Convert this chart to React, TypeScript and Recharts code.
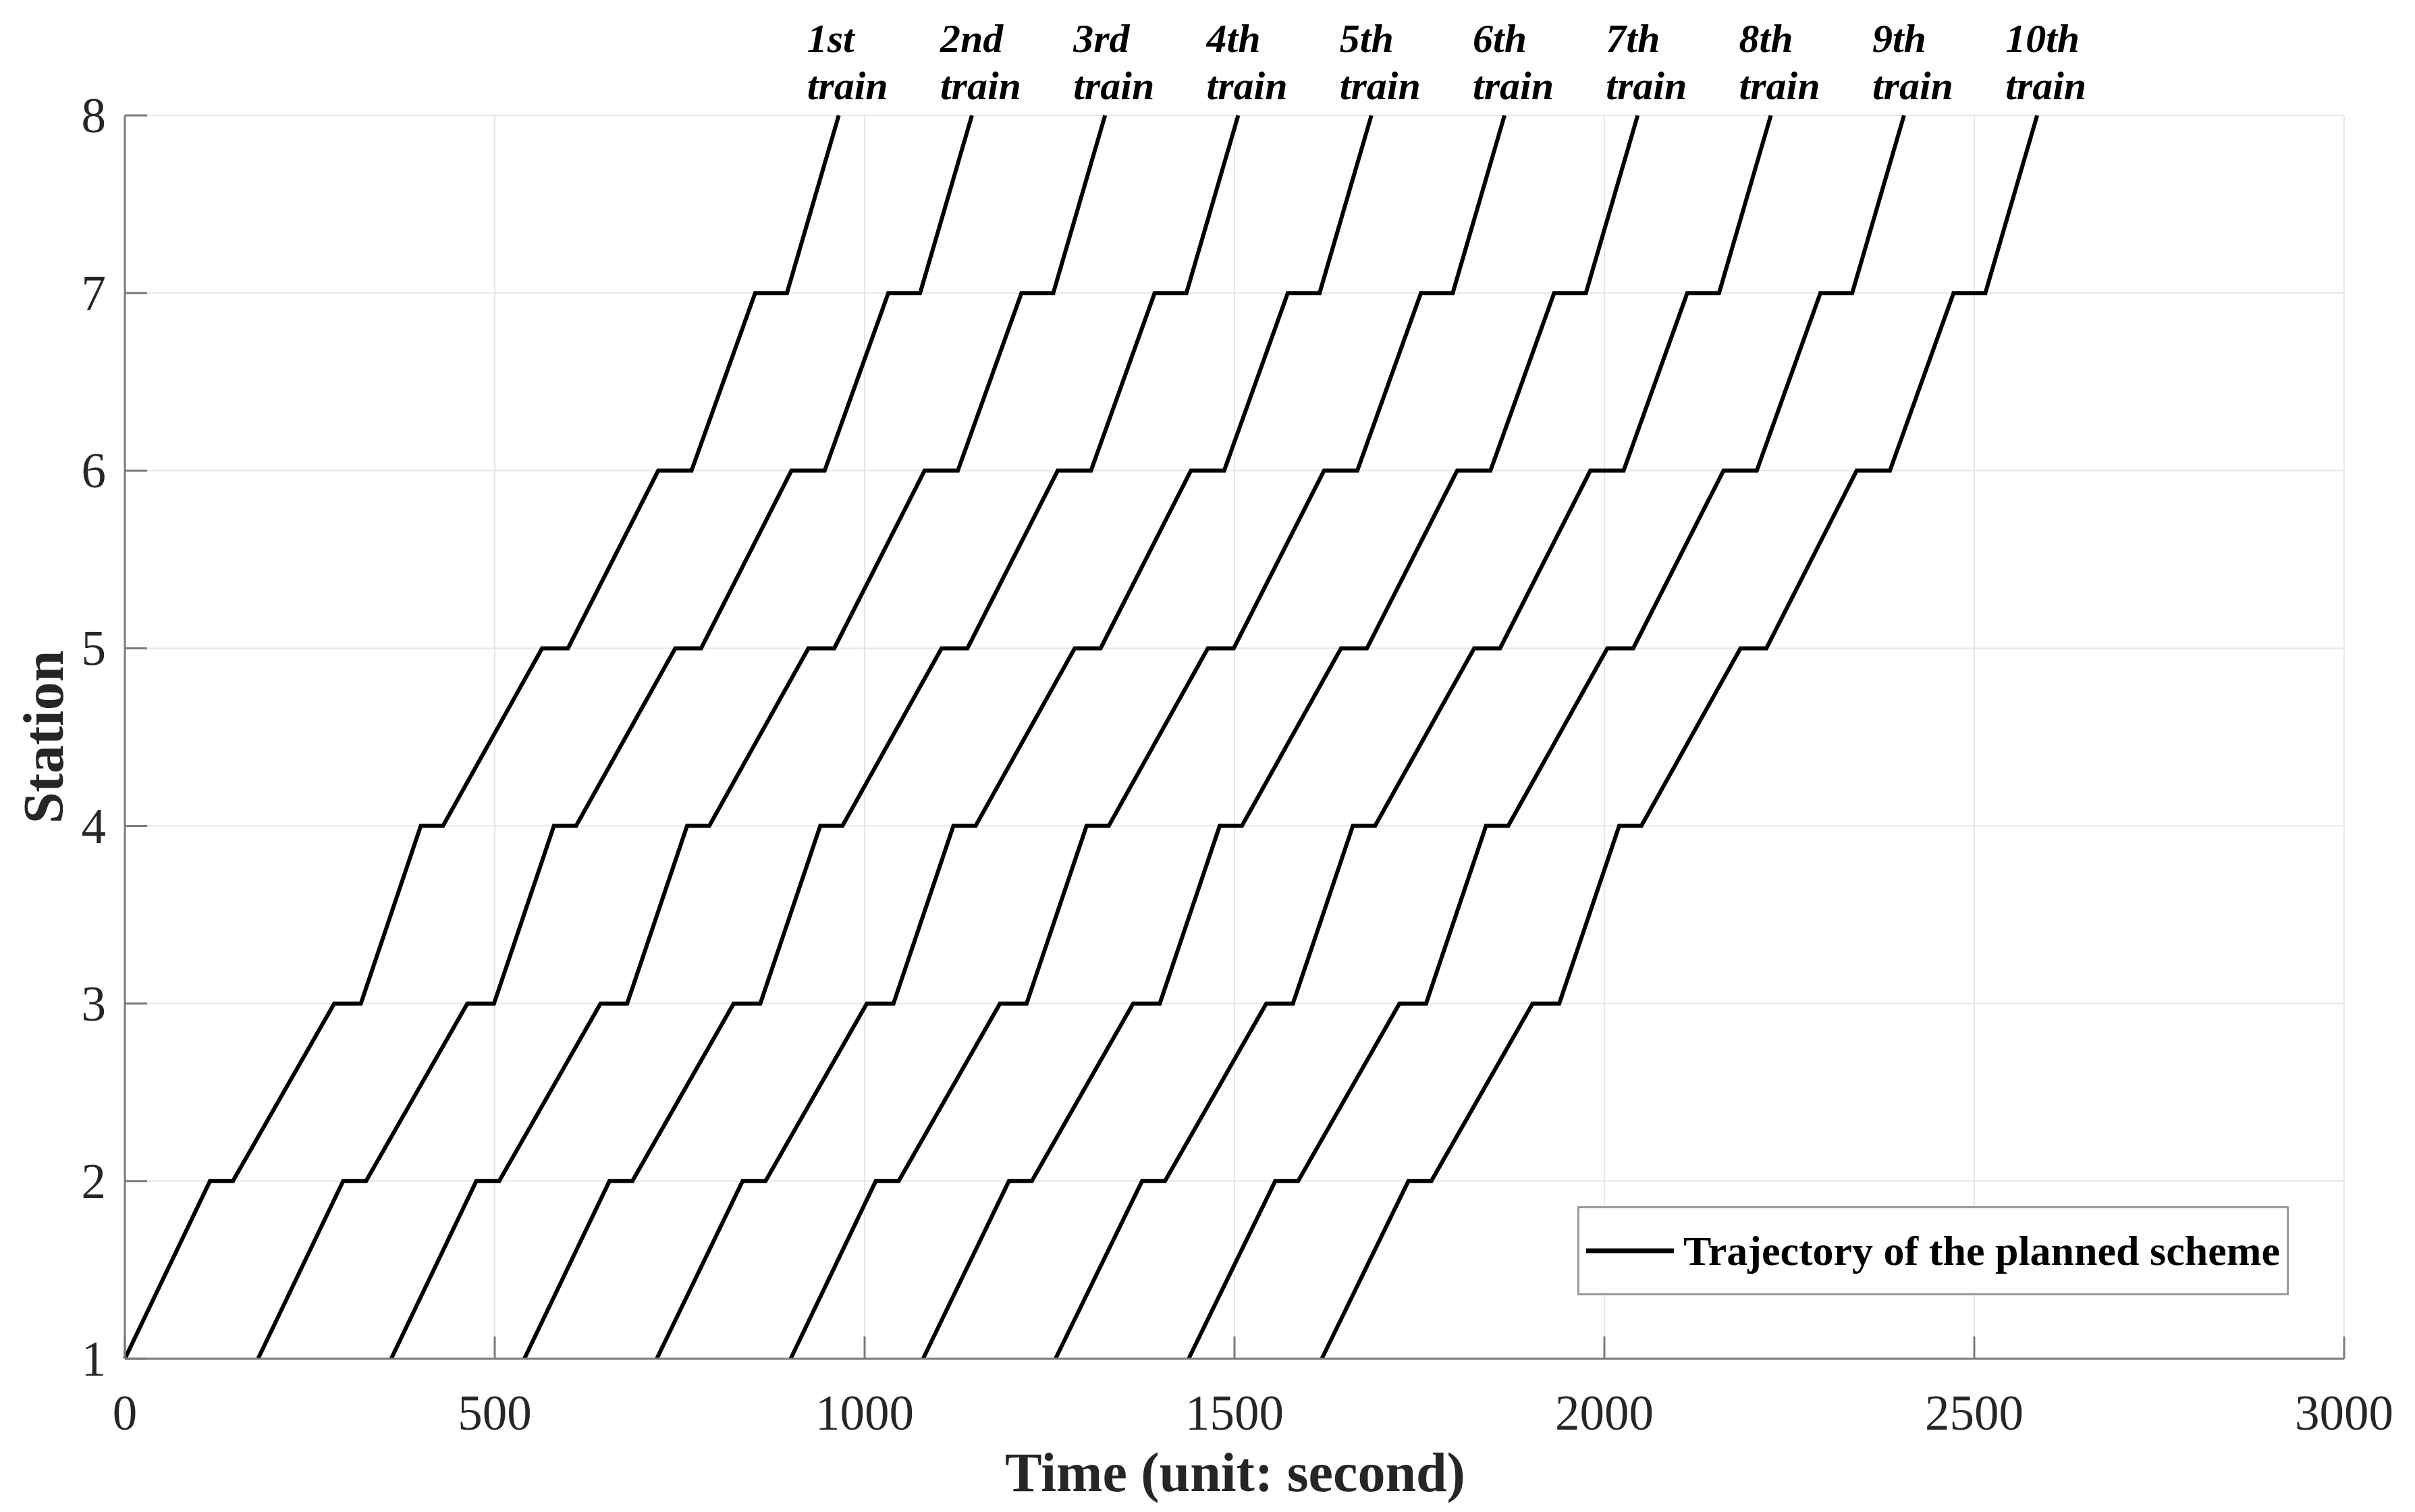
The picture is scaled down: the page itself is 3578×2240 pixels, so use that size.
import { CartesianGrid, Legend, Line, LineChart, XAxis, YAxis } from "recharts";

const FONT = '"Liberation Serif", "Times New Roman", serif';

// station reached at each timetable point (arrive, depart, arrive, ...)
const stationSequence = [1, 2, 2, 3, 3, 4, 4, 5, 5, 6, 6, 7, 7, 8];

// times (s) for every train, one per stationSequence entry
const train1 = [0, 115, 146, 283, 319, 400, 430, 564, 599, 721, 766, 852, 895, 965];
const train2 = [180, 295, 326, 463, 499, 580, 610, 744, 779, 901, 946, 1032, 1075, 1145];
const train3 = [360, 475, 506, 643, 679, 760, 790, 924, 959, 1081, 1126, 1212, 1255, 1325];
const train4 = [540, 655, 686, 823, 859, 940, 970, 1104, 1139, 1261, 1306, 1392, 1435, 1505];
const train5 = [719, 835, 866, 1003, 1039, 1120, 1150, 1284, 1319, 1441, 1486, 1572, 1615, 1685];
const train6 = [900, 1015, 1046, 1183, 1219, 1300, 1330, 1464, 1499, 1621, 1666, 1752, 1795, 1865];
const train7 = [1079, 1195, 1226, 1363, 1399, 1480, 1510, 1644, 1679, 1801, 1846, 1932, 1975, 2045];
const train8 = [1258, 1375, 1406, 1543, 1579, 1660, 1690, 1824, 1859, 1981, 2026, 2112, 2155, 2225];
const train9 = [1438, 1555, 1586, 1723, 1759, 1840, 1870, 2004, 2039, 2161, 2206, 2292, 2335, 2405];
const train10 = [1618, 1735, 1766, 1903, 1939, 2020, 2050, 2184, 2219, 2341, 2386, 2472, 2515, 2585];

const trainTimes = [train1, train2, train3, train4, train5, train6, train7, train8, train9, train10];
const trainNames = ["1st", "2nd", "3rd", "4th", "5th", "6th", "7th", "8th", "9th", "10th"];

const xTicks = [0, 500, 1000, 1500, 2000, 2500, 3000];
const yTicks = [1, 2, 3, 4, 5, 6, 7, 8];

const trains = trainTimes.map((times) =>
  times.map((time, i) => ({ time, station: stationSequence[i] }))
);

const AXIS = "#7a7a7a";

function TimeTick({ x, y, payload }: any) {
  return (
    <g>
      <line x1={x} y1={y} x2={x} y2={y - 33} stroke={AXIS} strokeWidth={3} />
      <text x={x} y={y + 105} textAnchor="middle" fontFamily={FONT} fontSize={73} fill="#262626">
        {payload.value}
      </text>
    </g>
  );
}

function StationTick({ x, y, payload }: any) {
  return (
    <g>
      <line x1={x} y1={y} x2={x + 33} y2={y} stroke={AXIS} strokeWidth={3} />
      <text x={x - 28} y={y + 25} textAnchor="end" fontFamily={FONT} fontSize={73} fill="#262626">
        {payload.value}
      </text>
    </g>
  );
}

function trainLabel(name: string, lastIndex: number) {
  return (props: any) => {
    if (props.index !== lastIndex) return null;
    const px = props.viewBox?.x ?? props.x;
    const py = props.viewBox?.y ?? props.y;
    const lx = px - 47;
    return (
      <text
        x={lx}
        y={py - 94}
        fontFamily={FONT}
        fontSize={60}
        fontStyle="italic"
        fontWeight="bold"
        fill="#000"
      >
        <tspan x={lx}>{name}</tspan>
        <tspan x={lx} dy={70}>
          train
        </tspan>
      </text>
    );
  };
}

function LegendBox() {
  return (
    <div
      style={{
        boxSizing: "border-box",
        width: 1054,
        height: 132,
        border: "3px solid #9a9a9a",
        background: "#fff",
        display: "flex",
        alignItems: "center",
        fontFamily: FONT,
        fontWeight: "bold",
        fontSize: 62,
        color: "#000",
        whiteSpace: "nowrap",
      }}
    >
      <svg width={154} height={20} style={{ flex: "none" }}>
        <line x1={10} y1={10} x2={140} y2={10} stroke="#000" strokeWidth={7} />
      </svg>
      <span>Trajectory of the planned scheme</span>
    </div>
  );
}

export default function App() {
  return (
    <div style={{ position: "absolute", left: 0, top: 0, width: 3578, height: 2240, background: "#fff" }}>
      <LineChart width={3578} height={2240} margin={{ top: 171, right: 105, bottom: 167, left: 125 }}>
        <CartesianGrid stroke="#e6e6e6" strokeWidth={2} />
        <XAxis
          type="number"
          dataKey="time"
          domain={[0, 3000]}
          ticks={xTicks}
          height={60}
          tickSize={0}
          tickMargin={0}
          tickLine={false}
          axisLine={{ stroke: AXIS, strokeWidth: 3 }}
          tick={<TimeTick />}
          label={{
            content: () => (
              <text x={1830} y={2209} textAnchor="middle" fontFamily={FONT} fontSize={82} fontWeight="bold" fill="#262626">
                Time (unit: second)
              </text>
            ),
          }}
        />
        <YAxis
          type="number"
          domain={[1, 8]}
          ticks={yTicks}
          width={60}
          tickSize={0}
          tickMargin={0}
          tickLine={false}
          axisLine={{ stroke: AXIS, strokeWidth: 3 }}
          tick={<StationTick />}
          label={{
            content: () => (
              <text
                x={93}
                y={1092}
                transform="rotate(-90 93 1092)"
                textAnchor="middle"
                fontFamily={FONT}
                fontSize={84}
                fontWeight="bold"
                fill="#262626"
              >
                Station
              </text>
            ),
          }}
        />
        <Legend
          layout="vertical"
          align="center"
          verticalAlign="middle"
          wrapperStyle={{ left: 2337, top: 1787, width: 1054, height: 132 }}
          content={() => <LegendBox />}
        />
        {trains.map((data, i) => (
          <Line
            key={trainNames[i]}
            data={data}
            dataKey="station"
            type="linear"
            stroke="#000"
            strokeWidth={6}
            dot={false}
            activeDot={false}
            isAnimationActive={false}
            label={trainLabel(trainNames[i], data.length - 1)}
          />
        ))}
      </LineChart>
    </div>
  );
}
